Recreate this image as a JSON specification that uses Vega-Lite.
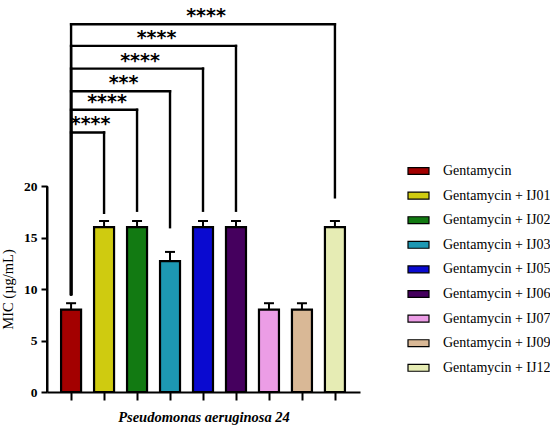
{
  "$schema": "https://vega.github.io/schema/vega-lite/v6.json",
  "width": 313,
  "height": 206,
  "autosize": {"type": "none"},
  "padding": {"left": 47, "top": 186, "right": 190, "bottom": 38},
  "background": "white",
  "config": {
    "view": {"stroke": null},
    "font": "Liberation Serif",
    "scale": {"continuousPadding": 0},
    "axisX": {
      "domain": true, "labels": false, "grid": false,
      "domainColor": "black", "domainWidth": 2, "tickColor": "black", "tickWidth": 2, "tickSize": 8,
      "titleFont": "Liberation Serif", "titleFontSize": 14.5,
      "titleFontStyle": "italic", "titleFontWeight": "bold", "titleColor": "black", "titlePadding": 9
    },
    "axisY": {
      "domain": true, "grid": false,
      "domainColor": "black", "domainWidth": 2, "tickColor": "black", "tickWidth": 2, "tickSize": 6,
      "labelFont": "Liberation Serif", "labelFontSize": 13.5, "labelFontWeight": "bold", "labelColor": "black", "labelPadding": 4,
      "titleFont": "Liberation Serif", "titleFontSize": 14.5, "titleFontWeight": "normal",
      "titleColor": "black", "titlePadding": 8
    }
  },
  "datasets": {
    "bars": [
      {"group": "Gentamycin", "pos": 1, "mic": 8, "upper": 8.62},
      {"group": "Gentamycin + IJ01", "pos": 2, "mic": 16, "upper": 16.6},
      {"group": "Gentamycin + IJ02", "pos": 3, "mic": 16, "upper": 16.6},
      {"group": "Gentamycin + IJ03", "pos": 4, "mic": 12.7, "upper": 13.6},
      {"group": "Gentamycin + IJ05", "pos": 5, "mic": 16, "upper": 16.6},
      {"group": "Gentamycin + IJ06", "pos": 6, "mic": 16, "upper": 16.6},
      {"group": "Gentamycin + IJ07", "pos": 7, "mic": 8, "upper": 8.62},
      {"group": "Gentamycin + IJ09", "pos": 8, "mic": 8, "upper": 8.62},
      {"group": "Gentamycin + IJ12", "pos": 9, "mic": 16, "upper": 16.6}
    ],
    "brackets": [
      {"comparison": "IJ01", "from": 1, "to": 2, "height": 25.2, "leftEnd": 9.5, "rightEnd": 17.4, "stars": "****"},
      {"comparison": "IJ02", "from": 1, "to": 3, "height": 27.4, "leftEnd": 9.5, "rightEnd": 17.6, "stars": "****"},
      {"comparison": "IJ03", "from": 1, "to": 4, "height": 29.2, "leftEnd": 9.5, "rightEnd": 16.0, "stars": "***"},
      {"comparison": "IJ05", "from": 1, "to": 5, "height": 31.4, "leftEnd": 9.5, "rightEnd": 17.6, "stars": "****"},
      {"comparison": "IJ06", "from": 1, "to": 6, "height": 33.6, "leftEnd": 9.5, "rightEnd": 17.6, "stars": "****"},
      {"comparison": "IJ12", "from": 1, "to": 9, "height": 35.7, "leftEnd": 9.5, "rightEnd": 18.9, "stars": "****"}
    ]
  },
  "layer": [
    {
      "data": {"values": [{"axisLine": "y"}]},
      "mark": {"type": "rule", "strokeWidth": 2, "color": "black"},
      "encoding": {
        "x": {"datum": 0.27, "type": "quantitative", "title": "Pseudomonas aeruginosa 24", "scale": {"domain": [0.27, 9.76], "nice": false, "zero": false, "padding": 0}, "axis": {"values": [1, 2, 3, 4, 5, 6, 7, 8, 9], "domain": true}},
        "y": {"datum": 0, "type": "quantitative", "title": "MIC (µg/mL)", "scale": {"domain": [0, 20], "nice": false, "zero": true, "padding": 0}, "axis": {"values": [0, 5, 10, 15, 20], "domain": true}},
        "y2": {"datum": 20}
      }
    },
    {
      "data": {"name": "bars"},
      "mark": {"type": "bar", "orient": "vertical", "size": 20, "stroke": "black", "strokeWidth": 2.2, "opacity": 1},
      "encoding": {
        "x": {"field": "pos", "type": "quantitative", "title": "Pseudomonas aeruginosa 24", "scale": {"domain": [0.27, 9.76], "nice": false, "zero": false, "padding": 0}, "axis": {"values": [1, 2, 3, 4, 5, 6, 7, 8, 9], "domain": true}},
        "y": {"field": "mic", "type": "quantitative", "stack": null, "title": "MIC (µg/mL)", "scale": {"domain": [0, 20], "nice": false, "zero": true, "padding": 0}, "axis": {"values": [0, 5, 10, 15, 20], "domain": true}},
        "color": {
          "field": "group", "type": "nominal",
          "scale": {
            "domain": ["Gentamycin", "Gentamycin + IJ01", "Gentamycin + IJ02", "Gentamycin + IJ03", "Gentamycin + IJ05", "Gentamycin + IJ06", "Gentamycin + IJ07", "Gentamycin + IJ09", "Gentamycin + IJ12"],
            "range": ["#a30000", "#cfcb10", "#127a12", "#1d98b3", "#0a0ad0", "#45005e", "#ec9de6", "#d9b896", "#e6ecb4"]
          },
          "legend": {
            "title": null, "orient": "none", "legendX": 360, "legendY": -26.5,
            "symbolType": "M-1,-0.33H1V0.33H-1Z", "symbolSize": 441, "symbolStrokeColor": "black", "symbolStrokeWidth": 1.2,
            "labelFont": "Liberation Serif", "labelFontSize": 14, "labelColor": "black", "labelOffset": 13,
            "rowPadding": 5.6, "labelLimit": 200
          }
        }
      }
    },
    {
      "data": {"name": "brackets"},
      "mark": {"type": "rule", "strokeWidth": 2.4, "color": "black", "strokeCap": "square"},
      "encoding": {
        "x": {"field": "from", "type": "quantitative", "title": "Pseudomonas aeruginosa 24", "scale": {"domain": [0.27, 9.76], "nice": false, "zero": false, "padding": 0}, "axis": {"values": [1, 2, 3, 4, 5, 6, 7, 8, 9], "domain": true}},
        "x2": {"field": "to"},
        "y": {"field": "height", "type": "quantitative", "title": "MIC (µg/mL)", "scale": {"domain": [0, 20], "nice": false, "zero": true, "padding": 0}, "axis": {"values": [0, 5, 10, 15, 20], "domain": true}}
      }
    },
    {
      "data": {"name": "brackets"},
      "mark": {"type": "rule", "strokeWidth": 2.4, "color": "black", "strokeCap": "square"},
      "encoding": {
        "x": {"field": "to", "type": "quantitative", "title": "Pseudomonas aeruginosa 24", "scale": {"domain": [0.27, 9.76], "nice": false, "zero": false, "padding": 0}, "axis": {"values": [1, 2, 3, 4, 5, 6, 7, 8, 9], "domain": true}},
        "y": {"field": "rightEnd", "type": "quantitative", "title": "MIC (µg/mL)", "scale": {"domain": [0, 20], "nice": false, "zero": true, "padding": 0}, "axis": {"values": [0, 5, 10, 15, 20], "domain": true}},
        "y2": {"field": "height"}
      }
    },
    {
      "data": {"name": "brackets"},
      "mark": {"type": "rule", "strokeWidth": 2.4, "color": "black", "strokeCap": "square"},
      "encoding": {
        "x": {"field": "from", "type": "quantitative", "title": "Pseudomonas aeruginosa 24", "scale": {"domain": [0.27, 9.76], "nice": false, "zero": false, "padding": 0}, "axis": {"values": [1, 2, 3, 4, 5, 6, 7, 8, 9], "domain": true}},
        "y": {"field": "leftEnd", "type": "quantitative", "title": "MIC (µg/mL)", "scale": {"domain": [0, 20], "nice": false, "zero": true, "padding": 0}, "axis": {"values": [0, 5, 10, 15, 20], "domain": true}},
        "y2": {"field": "height"}
      }
    },
    {
      "data": {"name": "bars"},
      "mark": {"type": "rule", "strokeWidth": 2, "color": "black"},
      "encoding": {
        "x": {"field": "pos", "type": "quantitative", "title": "Pseudomonas aeruginosa 24", "scale": {"domain": [0.27, 9.76], "nice": false, "zero": false, "padding": 0}, "axis": {"values": [1, 2, 3, 4, 5, 6, 7, 8, 9], "domain": true}},
        "y": {"field": "mic", "type": "quantitative", "title": "MIC (µg/mL)", "scale": {"domain": [0, 20], "nice": false, "zero": true, "padding": 0}, "axis": {"values": [0, 5, 10, 15, 20], "domain": true}},
        "y2": {"field": "upper"}
      }
    },
    {
      "data": {"name": "bars"},
      "mark": {"type": "tick", "orient": "horizontal", "size": 10, "thickness": 2, "color": "black", "opacity": 1},
      "encoding": {
        "x": {"field": "pos", "type": "quantitative", "title": "Pseudomonas aeruginosa 24", "scale": {"domain": [0.27, 9.76], "nice": false, "zero": false, "padding": 0}, "axis": {"values": [1, 2, 3, 4, 5, 6, 7, 8, 9], "domain": true}},
        "y": {"field": "upper", "type": "quantitative", "title": "MIC (µg/mL)", "scale": {"domain": [0, 20], "nice": false, "zero": true, "padding": 0}, "axis": {"values": [0, 5, 10, 15, 20], "domain": true}}
      }
    },
    {
      "data": {"name": "brackets"},
      "transform": [
        {"fold": ["from", "to"], "as": ["end", "xend"]},
        {"aggregate": [{"op": "mean", "field": "xend", "as": "mid"}], "groupby": ["comparison", "height", "stars"]}
      ],
      "mark": {"type": "text", "font": "DejaVu Sans", "fontWeight": "bold", "fontSize": 19, "baseline": "alphabetic", "dy": -2, "dx": 3, "color": "black"},
      "encoding": {
        "x": {"field": "mid", "type": "quantitative", "title": "Pseudomonas aeruginosa 24", "scale": {"domain": [0.27, 9.76], "nice": false, "zero": false, "padding": 0}, "axis": {"values": [1, 2, 3, 4, 5, 6, 7, 8, 9], "domain": true}},
        "y": {"field": "height", "type": "quantitative", "title": "MIC (µg/mL)", "scale": {"domain": [0, 20], "nice": false, "zero": true, "padding": 0}, "axis": {"values": [0, 5, 10, 15, 20], "domain": true}},
        "text": {"field": "stars"}
      }
    }
  ]
}
